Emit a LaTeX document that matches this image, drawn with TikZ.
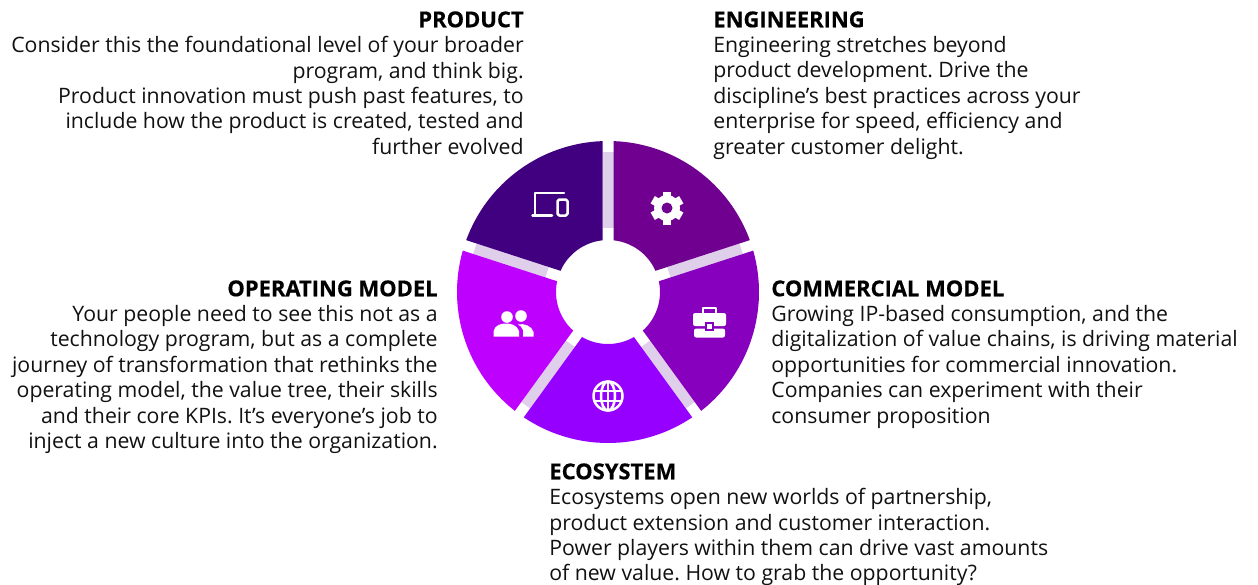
\documentclass[tikz,border=0pt]{standalone}
\usepackage{fontspec}
\setmainfont{Open Sans}
\newfontfamily\titlefont[BoldFeatures={FakeBold=0.5}]{Open Sans}
\usetikzlibrary{positioning}
\definecolor{spokecol}{HTML}{DFCFEA}
\definecolor{inkcol}{HTML}{111111}
\definecolor{productcol}{HTML}{400080}
\definecolor{engineeringcol}{HTML}{700090}
\definecolor{commercialcol}{HTML}{8600BE}
\definecolor{ecosystemcol}{HTML}{9600FF}
\definecolor{operatingcol}{HTML}{BE00FF}
\frenchspacing
\begin{document}
\begin{tikzpicture}[
    x=0.02cm, y=-0.02cm,
    bodyleft/.style={anchor=north west, align=left, inner sep=0pt, text=inkcol, font=\fontsize{12.1}{14.46}\selectfont},
    bodyright/.style={anchor=north east, align=right, inner sep=0pt, text=inkcol, font=\fontsize{12.1}{14.46}\selectfont},
    titleleft/.style={anchor=north west, inner sep=0pt, text=black, font=\titlefont\fontsize{12.5}{14.46}\selectfont\bfseries},
    titleright/.style={anchor=north east, inner sep=0pt, text=black, font=\titlefont\fontsize{12.5}{14.46}\selectfont\bfseries},
    spoke/.style={draw=spokecol, line width=0.22cm},
    icon/.style={draw=white, line width=0.05cm, line cap=round, line join=round},
    iconfill/.style={fill=white, draw=none}
]
\useasboundingbox (0,0) rectangle (1258,585);

% ANELLO
\foreach \a/\col in {90/productcol, 18/engineeringcol, -54/commercialcol, -126/ecosystemcol, 162/operatingcol} {
    \draw[spoke] ({608+64*cos(\a)},{292-64*sin(\a)}) -- ({608+140*cos(\a)},{292-140*sin(\a)});
}
% the y axis points down, so the angles go negative on the arcs
\foreach \a/\col in {162/productcol, 90/engineeringcol, 18/commercialcol, -54/ecosystemcol, -126/operatingcol} {
    \fill[\col] ({608+151*cos(\a-2.09)},{292-151*sin(\a-2.09)})
        arc[start angle=-\a+2.09, end angle=-\a+72-2.09, radius=151]
        -- ({608+52*cos(\a-72+6.07)},{292-52*sin(\a-72+6.07)})
        arc[start angle=-\a+72-6.07, end angle=-\a+6.07, radius=52]
        -- cycle;
}

% ICONE
% product
\draw[icon] (564,193) -- (535,193) -- (535,215);
\draw[icon] (532.5,215.5) -- (552,215.5);
\draw[icon, rounded corners=1pt] (557.5,199.5) rectangle (567.5,215.5);
% engineering
\foreach \t in {30,90,...,330} {
    \draw[white, line width=0.17cm] ({667+9*cos(\t)},{208+9*sin(\t)}) -- ({667+16.5*cos(\t)},{208+16.5*sin(\t)});
}
\fill[white] (667,208) circle[radius=13];
\fill[engineeringcol] (667,208) circle[radius=5.5];
% commercial
\draw[icon] (703,313) -- (703,308) -- (716,308) -- (716,313);
\fill[iconfill, rounded corners=1.2pt] (693,313) rectangle (726,326);
\fill[iconfill, rounded corners=1.2pt] (694,328.5) rectangle (725,337.5);
\fill[commercialcol] (705,322) rectangle (714,331);
\fill[iconfill] (707,324) rectangle (712,329);
% ecosystem
\draw[icon] (608,396) circle[radius=14.5];
\draw[icon] (608,396) ellipse[x radius=7, y radius=14.5];
\draw[icon] (608,381.5) -- (608,410.5);
\draw[icon] (595,391) -- (621,391);
\draw[icon] (595,401) -- (621,401);
% operating
\fill[iconfill] (507,317) circle[radius=5.8];
\fill[iconfill] (521,316) circle[radius=5.8];
\fill[iconfill] (493.5,336.5) -- (493.5,331) .. controls (495,325) and (501,323.5) .. (506,323.5) .. controls (511,323.5) and (517,325) .. (519,331) -- (519,336.5) -- cycle;
\fill[iconfill] (523,336.5) -- (523,330) .. controls (522,327) and (520,325.5) .. (518,324.5) .. controls (524,323) and (532,326) .. (533.5,332) -- (533.5,336.5) -- cycle;

% TESTI
\node[titleright] (producttitle) at (524,11) {PRODUCT};
\node[bodyright] (productbody) at (524,36) {Consider this the foundational level of your broader\\program, and think big.\\Product innovation must push past features, to\\include how the product is created, tested and\\further evolved};

\node[titleleft] (engineeringtitle) at (713,11) {ENGINEERING};
\node[bodyleft] (engineeringbody) at (713,36) {Engineering stretches beyond\\product development. Drive the\\discipline’s best practices across your\\enterprise for speed, efficiency and\\greater customer delight.};

\node[titleleft] (commercialtitle) at (771,280) {COMMERCIAL MODEL};
\node[bodyleft] (commercialbody) at (771,305) {Growing IP-based consumption, and the\\digitalization of value chains, is driving material\\opportunities for commercial innovation.\\Companies can experiment with their\\consumer proposition};

\node[titleleft] (ecosystemtitle) at (549,463) {ECOSYSTEM};
\node[bodyleft] (ecosystembody) at (549,488) {Ecosystems open new worlds of partnership,\\product extension and customer interaction.\\Power players within them can drive vast amounts\\of new value. How to grab the opportunity?};

\node[titleright] (operatingtitle) at (438,280) {OPERATING MODEL};
\node[bodyright] (operatingbody) at (438,305) {Your people need to see this not as a\\technology program, but as a complete\\journey of transformation that rethinks the\\operating model, the value tree, their skills\\and their core KPIs. It’s everyone’s job to\\inject a new culture into the organization.};

\end{tikzpicture}
\end{document}
